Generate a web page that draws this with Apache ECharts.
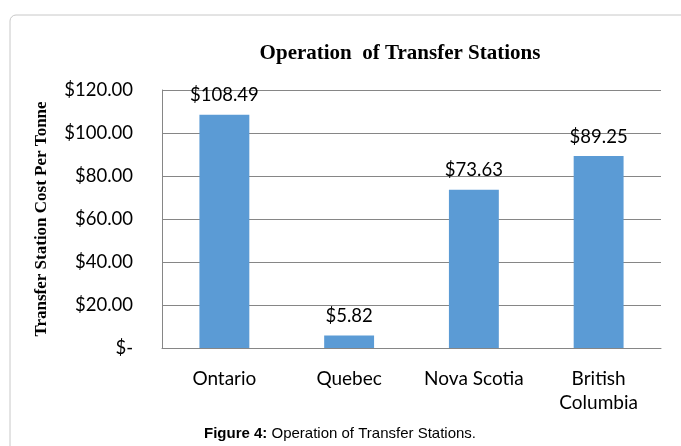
<!DOCTYPE html>
<html><head><meta charset="utf-8">
<script src="https://cdn.jsdelivr.net/npm/echarts@6/dist/echarts.min.js"></script>
<style>html,body{margin:0;padding:0;background:#fff}#c{width:681px;height:446px}</style>
</head><body><div id="c"></div>
<script>
const categories = ['Ontario', 'Quebec', 'Nova Scotia', 'British\nColumbia'];
const costs = [108.49, 5.82, 73.63, 89.25];
const yTicks = [0, 20, 40, 60, 80, 100, 120];

function fmt(v) { return v === 0 ? '$-' : '$' + v.toFixed(2); }

const chart = echarts.init(document.getElementById('c'), null, {renderer: 'canvas'});
chart.setOption({
  animation: false,
  backgroundColor: '#fff',
  title: {
    text: 'Operation  of Transfer Stations',
    left: 395, top: 38, textAlign: 'center',
    textStyle: {fontFamily: 'Liberation Serif', fontWeight: 'bold', fontSize: 21, color: '#000'}
  },
  grid: {left: 162, right: 20, top: 90, bottom: 98},
  xAxis: {
    type: 'category', data: categories,
    axisLine: {show: true, lineStyle: {color: '#868686', width: 1}},
    axisTick: {show: false},
    axisLabel: {fontFamily: 'Lato', fontSize: 19, color: '#000', margin: 19, lineHeight: 24, interval: 0}
  },
  yAxis: {
    type: 'value', min: yTicks[0], max: yTicks[yTicks.length - 1], interval: 20,
    name: 'Transfer Station Cost Per Tonne',
    nameLocation: 'middle', nameGap: 112, nameRotate: 90,
    nameTextStyle: {fontFamily: 'Liberation Serif', fontWeight: 'bold', fontSize: 17, color: '#000'},
    axisLine: {show: true, lineStyle: {color: '#868686', width: 1}},
    axisTick: {show: false},
    splitLine: {lineStyle: {color: '#868686', width: 1}},
    axisLabel: {fontFamily: 'Lato', fontSize: 18.5, color: '#000', margin: 29, formatter: fmt}
  },
  series: [{
    type: 'bar', data: costs, barWidth: '40%',
    itemStyle: {color: '#5B9BD5'},
    label: {show: true, position: 'top', distance: 10, fontFamily: 'Lato', fontSize: 18.5, color: '#000',
      formatter: p => fmt(p.value)}
  }],
  graphic: [
    {type: 'rect', shape: {x: 10, y: 15, width: 700, height: 460, r: 6},
     style: {fill: 'none', stroke: '#c8c8c8', lineWidth: 1}, z: -1},
    {type: 'text', x: 340, y: 434,
     style: {text: '{b|Figure 4:} Operation of Transfer Stations.', align: 'center', verticalAlign: 'middle',
       font: '15px "Liberation Sans"', fill: '#000',
       rich: {b: {fontWeight: 'bold', fontFamily: 'Liberation Sans', fontSize: 15}}}}
  ]
});
</script></body></html>
